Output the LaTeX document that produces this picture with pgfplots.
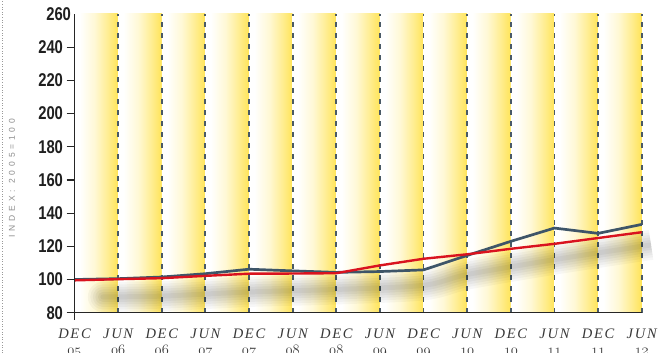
\documentclass[border=0pt]{standalone}
\usepackage{pgfplots}
\pgfplotsset{compat=1.18}
\usepackage{pgfplotstable}
\usepackage{fontspec}
\setmainfont{Liberation Serif}
\newfontfamily\tickfont[FakeStretch=0.8]{Liberation Sans Bold}
\newfontfamily\labfont[LetterSpace=12]{Liberation Serif Italic}
\newfontfamily\ylabfont[LetterSpace=45]{Liberation Sans}
\newcommand\os[1]{{\fontencoding{OML}\fontfamily{cmm}\fontseries{m}\fontshape{it}\selectfont #1}}
\definecolor{bandY}{HTML}{FFE458}
\definecolor{blueL}{HTML}{3E5568}
\definecolor{redL}{HTML}{D9131F}
\definecolor{dashC}{HTML}{4A5A66}
\pgfdeclarehorizontalshading{band}{100bp}{color(0bp)=(white); color(25bp)=(white); color(31bp)=(white); color(48bp)=(bandY!25); color(63bp)=(bandY!65); color(75bp)=(bandY); color(100bp)=(bandY)}

\pgfplotstableread{
x blue red
0 100 99.5
1 100.5 100.2
2 101.5 100.8
3 103.5 102.2
4 106.2 103.5
5 105.2 103.6
6 104.3 103.8
7 104.8 108.5
8 105.8 112.5
9 114.5 115.2
10 123 118.5
11 131 121.5
12 127.8 125
13 133.2 128.5
}\data

\pgfplotstableread{
x y
0.65 89.5
2 90
4 92.5
6 94
8 96.5
9 103
11 112
13 120
13.2 120.8
}\shadow

\begin{document}
\begin{tikzpicture}
\begin{axis}[
  name=ax,
  scale only axis, width=567.2pt, height=298.7pt,
  xmin=0, xmax=13, ymin=80, ymax=260,
  axis x line*=bottom, axis y line*=left,
  axis line style={line width=1.3pt, color=black!85},
  axis on top, clip=false,
  ytick={80,100,...,240}, extra y ticks={260}, extra y tick style={major tick length=0pt},
  tick align=outside, major tick length=8pt,
  ytick style={line width=1.2pt, color=black!85},
  xtick={0,...,13}, xtick style={draw=none},
  xticklabels={{DEC\\\os{05}},{JUN\\\os{06}},{DEC\\\os{06}},{JUN\\\os{07}},{DEC\\\os{07}},{JUN\\\os{08}},{DEC\\\os{08}},{JUN\\\os{09}},{DEC\\\os{09}},{JUN\\\os{10}},{DEC\\\os{10}},{JUN\\\os{11}},{DEC\\\os{11}},{JUN\\\os{12}}},
  /pgf/number format/assume math mode=true,
  yticklabel style={font=\tickfont\fontsize{18.5}{18.5}\selectfont, text=black!88},
  xticklabel style={font=\labfont\fontsize{14.5}{15.5}\selectfont, align=center, text=black!78, yshift=-5pt},
]
\pgfplotsinvokeforeach{0,...,12}{
  \fill[shading=band] (axis cs:#1,80) rectangle (axis cs:#1+1,260);
}
\pgfplotsinvokeforeach{1,...,13}{
  \draw[dashC, line width=1.8pt, dash pattern=on 4.5pt off 6.5pt] (axis cs:#1,80) -- (axis cs:#1,260);
}
\addplot[black, opacity=0.03, line width=30pt, line cap=round, smooth] table[x=x,y=y]{\shadow};
\addplot[black, opacity=0.03, line width=25pt, line cap=round, smooth] table[x=x,y=y]{\shadow};
\addplot[black, opacity=0.035, line width=20pt, line cap=round, smooth] table[x=x,y=y]{\shadow};
\addplot[black, opacity=0.035, line width=15pt, line cap=round, smooth] table[x=x,y=y]{\shadow};
\addplot[black, opacity=0.04, line width=10pt, line cap=round, smooth] table[x=x,y=y]{\shadow};
\addplot[black, opacity=0.04, line width=5pt, line cap=round, smooth] table[x=x,y=y]{\shadow};
\addplot[blueL, line width=2.7pt, line join=round] table[x=x,y=blue]{\data};
\addplot[redL, line width=2.4pt, line join=round] table[x=x,y=red]{\data};
\end{axis}
\draw[black!85, line width=1.3pt] (ax.south west) -- ++(0,-7pt);
\node[rotate=90, font=\ylabfont\fontsize{8.5}{8.5}\selectfont, text=black!45] at ([shift={(-62.5pt,134.7pt)}]ax.south west) {INDEX: 2005=100};
\draw[black!40, dotted, line width=0.6pt] ([shift={(-72.5pt,-40.3pt)}]ax.south west) -- ([shift={(-72.5pt,312.7pt)}]ax.south west);
\pgfresetboundingbox
\path[use as bounding box] ([shift={(-74.5pt,-40.3pt)}]ax.south west) rectangle ([shift={(592.5pt,312.7pt)}]ax.south west);
\end{tikzpicture}
\end{document}
